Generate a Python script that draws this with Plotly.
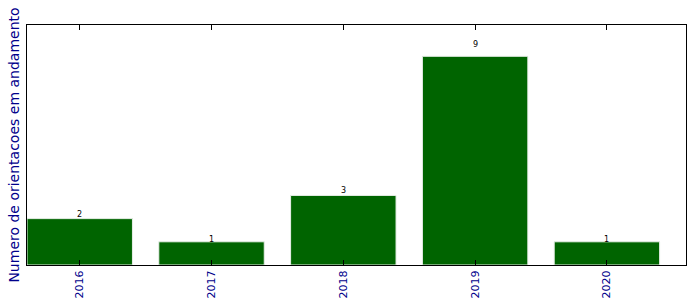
import plotly.graph_objects as go

years = ["2016", "2017", "2018", "2019", "2020"]
counts = [2, 1, 3, 9, 1]

xpos = list(range(len(years)))

fig = go.Figure()
fig.add_trace(go.Bar(
    x=xpos, y=counts, width=0.8,
    marker=dict(color="#006400", line=dict(color="#e8efe8", width=1)),
    hoverinfo="skip",
))
for xi, v in zip(xpos, counts):
    fig.add_annotation(x=xi, y=v * 1.05, text=str(v), showarrow=False,
                       yanchor="bottom", xanchor="center",
                       font=dict(family="DejaVu Sans", size=8, color="black"),
                       yshift=-5)

fig.update_layout(
    width=696, height=308,
    margin=dict(l=27, r=10, t=25, b=43),
    paper_bgcolor="white", plot_bgcolor="white",
    showlegend=False,
    font=dict(family="DejaVu Sans"),
    xaxis=dict(
        range=[-0.4, 4.6], tickmode="array", tickvals=xpos, ticktext=years,
        tickangle=-90, ticks="inside", ticklen=5, tickcolor="black",
        showline=True, linecolor="black", linewidth=1, mirror="ticks",
        showgrid=False, zeroline=False,
        tickfont=dict(family="DejaVu Sans", size=11, color="#00008B"),
    ),
    yaxis=dict(
        range=[0, 10.35], showticklabels=False, ticks="",
        showline=True, linecolor="black", linewidth=1, mirror=True,
        showgrid=False, zeroline=False,
        title=dict(text="Numero de orientacoes em andamento", standoff=3,
                   font=dict(family="DejaVu Sans", size=14, color="#00008B")),
    ),
)

fig.write_html("out.html")
